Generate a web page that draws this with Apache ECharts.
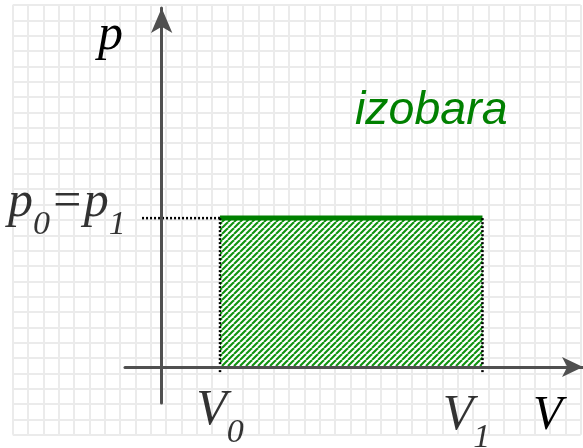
<!DOCTYPE html>
<html>
<head>
<meta charset="utf-8">
<script src="https://cdn.jsdelivr.net/npm/echarts@6/dist/echarts.min.js"></script>
<style>
  html, body { margin: 0; padding: 0; background: #ffffff; }
  #chart { width: 583px; height: 448px; }
</style>
</head>
<body>
<div id="chart"></div>
<script>
// p–V diagram of an isobaric process; one unit = one square of the paper grid.
const V0 = 3.8;            // initial volume
const V1 = 20.9;           // final volume
const p0 = 9.7;            // constant pressure, p0 = p1
const guideStart = -1.28;  // left end of the dotted pressure guide
const guideDrop = -0.4;    // lower end of the dotted volume guides
const vExtent = [-2.39, 27.45];  // V axis range
const pExtent = [-2.345, 23.39]; // p axis range
const paperCols = 37;      // squares of the background paper
const paperRows = 28;

const processName = 'izobara';
const volumeLabels = ['{m|V}{s|0}', '{m|V}{s|1}'];
const pressureLabel = '{m|p}{s|0}{m|=p}{s|1}';
const axisNames = ['V', 'p'];

// diagonal green hatching used to fill the work area
function hatchCanvas() {
  const s = 6;
  const c = document.createElement('canvas');
  c.width = s; c.height = s;
  const g = c.getContext('2d');
  g.fillStyle = '#ffffff';
  g.fillRect(0, 0, s, s);
  g.strokeStyle = '#0f930f';
  g.lineWidth = 2.1;
  for (const k of [-s, 0, s]) {
    g.beginPath();
    g.moveTo(k, s);
    g.lineTo(k + s, 0);
    g.stroke();
  }
  return c;
}

// main letters sit at the top of a tall line, subscripts hang at its bottom
const serif = '"Liberation Serif", "Times New Roman", serif';
const richText = {
  m: { fontFamily: serif, fontStyle: 'italic', fontSize: 50, lineHeight: 64, color: '#000', verticalAlign: 'top' },
  s: { fontFamily: serif, fontStyle: 'italic', fontSize: 34, lineHeight: 1, color: '#000', verticalAlign: 'bottom' }
};

const dotted = { color: '#000', width: 2.5, type: [2, 2] };

const chart = echarts.init(document.getElementById('chart'), null, { renderer: 'canvas' });

const hiddenAxis = {
  axisLine: { show: false }, axisTick: { show: false }, axisLabel: { show: false }
};

chart.setOption({
  animation: false,
  backgroundColor: '#ffffff',
  grid: [
    { left: 12.7, top: 5, width: 15.35 * paperCols, height: 15.35 * paperRows, outerBoundsMode: 'none' },
    { left: 125, right: 0, top: 8, bottom: 45, outerBoundsMode: 'none' }
  ],
  xAxis: [
    Object.assign({ type: 'value', gridIndex: 0, min: 0, max: paperCols, interval: 1,
      splitLine: { show: true, lineStyle: { color: '#ebebeb', width: 2 } } }, hiddenAxis),
    { type: 'value', gridIndex: 1, min: vExtent[0], max: vExtent[1], z: 5,
      axisLine: { show: true, onZero: true, symbol: ['none', 'arrow'], symbolSize: [15, 21],
        lineStyle: { color: '#505050', width: 3 } },
      axisTick: { show: false }, axisLabel: { show: false }, splitLine: { show: false } }
  ],
  yAxis: [
    Object.assign({ type: 'value', gridIndex: 0, min: 0, max: paperRows, interval: 1,
      splitLine: { show: true, lineStyle: { color: '#ebebeb', width: 2 } } }, hiddenAxis),
    { type: 'value', gridIndex: 1, min: pExtent[0], max: pExtent[1], z: 5,
      axisLine: { show: true, onZero: true, symbol: ['none', 'arrow'], symbolSize: [16, 25],
        lineStyle: { color: '#505050', width: 3 } },
      axisTick: { show: false }, axisLabel: { show: false }, splitLine: { show: false } }
  ],
  graphic: [
    { type: 'text', z: 10, style: { text: axisNames[1], x: 98, y: 36, font: 'italic 50px ' + serif,
        fill: '#000', textAlign: 'left', textVerticalAlign: 'middle', align: 'left', verticalAlign: 'middle' } },
    { type: 'text', z: 10, style: { text: axisNames[0], x: 533, y: 416, font: 'italic 48px ' + serif,
        fill: '#000', textAlign: 'left', textVerticalAlign: 'middle', align: 'left', verticalAlign: 'middle' } },
    { type: 'text', z: 10, style: { text: processName, x: 355, y: 111,
        font: 'italic 46.5px "Liberation Sans", Arial, sans-serif',
        fill: '#008000', textAlign: 'left', textVerticalAlign: 'middle', align: 'left', verticalAlign: 'middle' } }
  ],
  series: [
    {
      name: processName, type: 'line', xAxisIndex: 1, yAxisIndex: 1, z: 2,
      symbol: 'none', silent: true,
      data: [[V0, p0], [V1, p0]],
      lineStyle: { color: '#008000', width: 5 },
      areaStyle: { color: { image: hatchCanvas(), repeat: 'repeat' }, opacity: 1 }
    },
    {
      type: 'line', xAxisIndex: 1, yAxisIndex: 1, z: 4, symbol: 'none', silent: true,
      data: [[guideStart, p0], [V0, p0]], lineStyle: dotted
    },
    {
      type: 'line', xAxisIndex: 1, yAxisIndex: 1, z: 4, symbol: 'none', silent: true,
      data: [[V0, p0], [V0, guideDrop]], lineStyle: dotted
    },
    {
      type: 'line', xAxisIndex: 1, yAxisIndex: 1, z: 4, symbol: 'none', silent: true,
      data: [[V1, p0], [V1, guideDrop]], lineStyle: dotted
    },
    {
      type: 'scatter', xAxisIndex: 1, yAxisIndex: 1, z: 6, symbolSize: 0, silent: true,
      data: [
        { value: [V0, 0], label: { show: true, position: 'bottom', distance: 19,
            formatter: volumeLabels[0], rich: richText } },
        { value: [V1, 0], label: { show: true, position: 'bottom', distance: 24, offset: [-16, 0],
            formatter: volumeLabels[1], rich: richText } },
        { value: [0, p0], label: { show: true, position: 'left', distance: 36, offset: [0, -8],
            formatter: pressureLabel, rich: richText } }
      ]
    }
  ]
});
</script>
</body>
</html>
